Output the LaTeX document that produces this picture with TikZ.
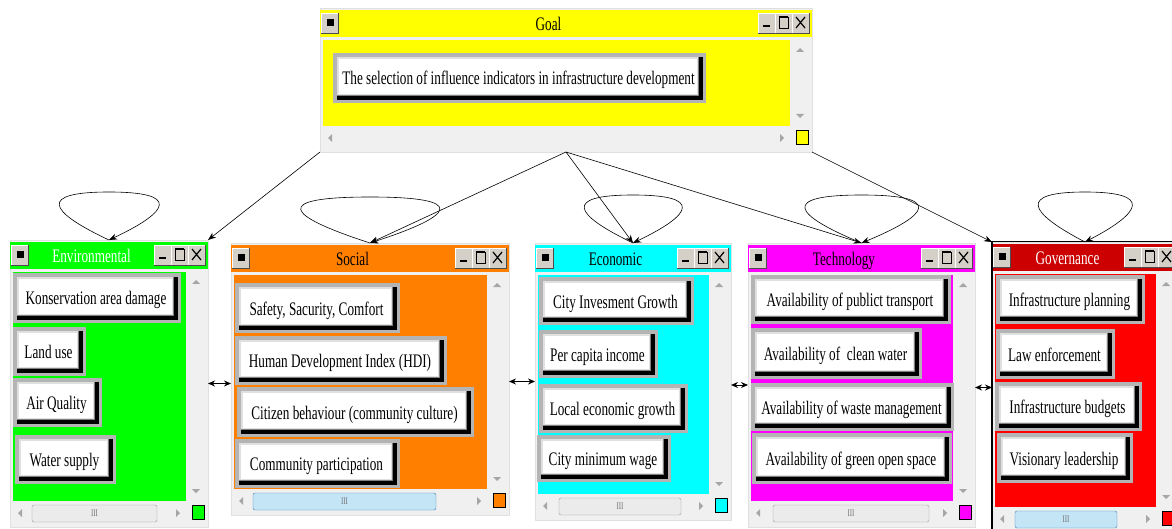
\documentclass[tikz,border=0pt]{standalone}
\usepackage{fontspec}
\setmainfont{Liberation Serif}
\usetikzlibrary{arrows.meta,calc}
\definecolor{wbg}{HTML}{F0F0F0}
\definecolor{cyellow}{HTML}{FFFF00}
\definecolor{cgreen}{HTML}{00FF00}
\definecolor{corange}{HTML}{FF8000}
\definecolor{ccyan}{HTML}{00FFFF}
\definecolor{cmagenta}{HTML}{FF00FF}
\definecolor{cred}{HTML}{FF0000}
\definecolor{cdred}{HTML}{CC0000}
\definecolor{framegray}{HTML}{B4B4B4}
\definecolor{btngray}{HTML}{D4D0C8}
\definecolor{thumbblue}{HTML}{C4E5F6}
\definecolor{thumbedge}{HTML}{3C7FB1}
\newcommand\tallText[1]{\scalebox{1}[1.45]{#1}}
\tikzset{
  winnode/.style={inner sep=0pt, outer sep=0pt, draw=none},
  btntext/.style={inner sep=0pt, anchor=base, font=\fontsize{13.2}{15}\selectfont, text=black},
  titletext/.style={inner sep=0pt, anchor=base, font=\fontsize{13.2}{15}\selectfont},
  arr/.style={-{Stealth[length=8pt,width=6pt]}, line width=0.6pt},
  biarr/.style={{Stealth[length=7pt,width=6pt]}-{Stealth[length=7pt,width=6pt]}, line width=1pt},
  sarrow/.style={fill=black!35},
  thumbtext/.style={inner sep=0pt, font=\fontsize{7}{7}\selectfont, text=black!55},
}
\newcommand\tbutton[2]{%
  \fill[btngray] (#1,#2) rectangle ++(17,20);
  \draw[white, line width=0.8pt] (#1,#2+20) -- (#1,#2) -- (#1+17,#2);
  \draw[black!70, line width=0.8pt] (#1,#2+20) -- (#1+17,#2+20) -- (#1+17,#2);
}
\newcommand\win[9]{%
  \fill[wbg] (#2,#3) rectangle (#4,#5);
  \draw[black!12] (#2,#3) rectangle (#4,#5);
  \fill[#6] (#2,#3+2) rectangle (#4,#3+29);
  \fill[#7] (#2+3,#3+32) rectangle (#4-22,#5-26);
  \tbutton{#2+1}{#3+5}
  \fill (#2+6.5,#3+11.5) rectangle ++(7,7);
  \tbutton{#4-54}{#3+5}\tbutton{#4-37}{#3+5}\tbutton{#4-20}{#3+5}
  \fill (#4-49,#3+17) rectangle (#4-42,#3+19.5);
  \draw[line width=0.8pt] (#4-33,#3+9) rectangle (#4-24,#3+20);
  \draw[line width=2pt] (#4-33,#3+9.5) -- (#4-24,#3+9.5);
  \draw[line width=1.2pt] (#4-16,#3+9) -- (#4-7,#3+20) (#4-7,#3+9) -- (#4-16,#3+20);
  \fill[sarrow] (#4-16,#3+44) -- (#4-8,#3+44) -- (#4-12,#3+40) -- cycle;
  \fill[sarrow] (#4-16,#5-38) -- (#4-8,#5-38) -- (#4-12,#5-34) -- cycle;
  \fill[sarrow] (#2+12,#5-18) -- (#2+12,#5-10) -- (#2+8,#5-14) -- cycle;
  \fill[sarrow] (#4-32,#5-18) -- (#4-32,#5-10) -- (#4-28,#5-14) -- cycle;
  \draw[black, fill=#7, line width=0.8pt] (#4-16,#5-22) rectangle (#4-4,#5-8);
  \node[titletext, text=#8] (#1title) at ({(#2+#4)/2-17.5},#3+22.5) {\tallText{#9}};
  \node[winnode, minimum width={#4-#2}, minimum height={#5-#3}] (#1) at ({(#2+#4)/2},{(#3+#5)/2}) {};
}
\newcommand\thumb[6]{%
  \draw[#6, fill=#5, rounded corners=2pt] (#2,#4-22) rectangle (#3,#4-5);
  \node[thumbtext] (#1) at ({(#2+#3)/2},#4-13.5) {\tallText{III}};
}
\newcommand\btn[6]{%
  \fill[framegray] (#2,#3) rectangle (#4,#5);
  \fill[black] (#2+4,#3+4) rectangle (#4-3,#5-3);
  \fill[black!50] (#2+4,#3+4) rectangle (#4-7,#5-7);
  \fill[black!12] (#2+4,#3+4) rectangle (#4-8,#5-8);
  \fill[white] (#2+6,#3+6) rectangle (#4-9,#5-9);
  \node[btntext] (#1) at ({(#2+#4)/2-1},{(#3+#5)/2+7}) {\tallText{#6}};
}
\newcommand\sloop[3]{%
  \coordinate (#1top) at ($(#1.north)+(0,-#3)$);
  \draw[arr] (#1.north) .. controls ($(#1.north)+(-1.2*#2,-0.6*#3)$) and ($(#1top)+(-1.4*#2,0)$) .. (#1top)
     .. controls ($(#1top)+(1.4*#2,0)$) and ($(#1.north)+(1.2*#2,-0.6*#3)$) .. (#1.north);
}
\begin{document}
\begin{tikzpicture}[x=1pt,y=-1pt]
\clip (0,0) rectangle (1172,529);
\fill[white] (0,0) rectangle (1172,529);
% windows
\win{goalw}{320}{8}{812}{152}{cyellow}{cyellow}{black}{Goal}
\win{envw}{10}{240}{208}{527}{cgreen}{cgreen}{white}{Environmental}
\win{socw}{231}{243}{509}{515}{corange}{corange}{black}{Social}
\win{ecow}{535}{243}{731}{520}{ccyan}{ccyan}{black}{Economic}
\win{tecw}{748}{243}{975}{527}{cmagenta}{cmagenta}{black}{Technology}
\win{govw}{992}{242}{1178}{533}{cdred}{cred}{white}{Governance}
\draw[line width=1.4pt] (992,533) -- (992,241.5) -- (1178,241.5);
% thumbs
\thumb{envth}{32}{157}{527}{black!8}{black!40}
\thumb{socth}{253}{436}{515}{thumbblue}{thumbedge}
\thumb{ecoth}{559}{681}{520}{black!8}{black!40}
\thumb{tecth}{773}{929}{527}{black!8}{black!40}
\thumb{govth}{1015}{1117}{533}{thumbblue}{thumbedge}
% buttons
\btn{goalb}{333}{53}{706}{103}{The selection of influence indicators in infrastructure development}
\btn{envb1}{13}{273}{181}{323}{Konservation area damage}
\btn{envb2}{13}{327}{86}{376}{Land use}
\btn{envb3}{13}{378}{102}{427}{Air Quality}
\btn{envb4}{15}{435}{116}{484}{Water supply}
\btn{socb1}{235}{283}{400}{333}{Safety, Sacurity, Comfort}
\btn{socb2}{235}{336}{447}{385}{Human Development Index (HDI)}
\btn{socb3}{237}{387}{474}{437}{Citizen behaviour (community culture)}
\btn{socb4}{235}{439}{400}{488}{Community participation}
\btn{ecob1}{539}{277}{694}{325}{City Invesment Growth}
\btn{ecob2}{539}{330}{658}{378}{Per capita income}
\btn{ecob3}{539}{384}{688}{433}{Local economic growth}
\btn{ecob4}{537}{435}{671}{482}{City minimum wage}
\btn{tecb1}{751}{275}{951}{324}{Availability of publict transport}
\btn{tecb2}{751}{328}{922}{379}{Availability of\ \ clean water}
\btn{tecb3}{751}{383}{954}{431}{Availability of waste management}
\btn{tecb4}{752}{433}{952}{484}{Availability of green open space}
\btn{govb1}{996}{275}{1145}{324}{Infrastructure planning}
\btn{govb2}{996}{329}{1115}{379}{Law enforcement}
\btn{govb3}{995}{382}{1142}{431}{Infrastructure budgets}
\btn{govb4}{997}{433}{1133}{483}{Visionary leadership}
% connectors from goal
\draw[arr] (goalw.south west) -- (envw.north east);
\draw[arr] (goalw.south) -- (socw.north);
\draw[arr] (goalw.south) -- (ecow.north);
\draw[arr] (goalw.south) -- (tecw.north);
\draw[arr] (goalw.south east) -- (govw.north west);
% self loops
\sloop{envw}{51}{48}
\sloop{socw}{71}{46}
\sloop{ecow}{50}{48}
\sloop{tecw}{58}{48}
\sloop{govw}{48}{50}
% links between windows
\draw[biarr] (envw.east) -- (envw.east -| socw.west);
\draw[biarr] (socw.east |- ecow.west) -- (ecow.west);
\draw[biarr] (ecow.east |- tecw.west) -- (tecw.west);
\draw[biarr] (tecw.east |- govw.west) -- (govw.west);
\end{tikzpicture}
\end{document}
